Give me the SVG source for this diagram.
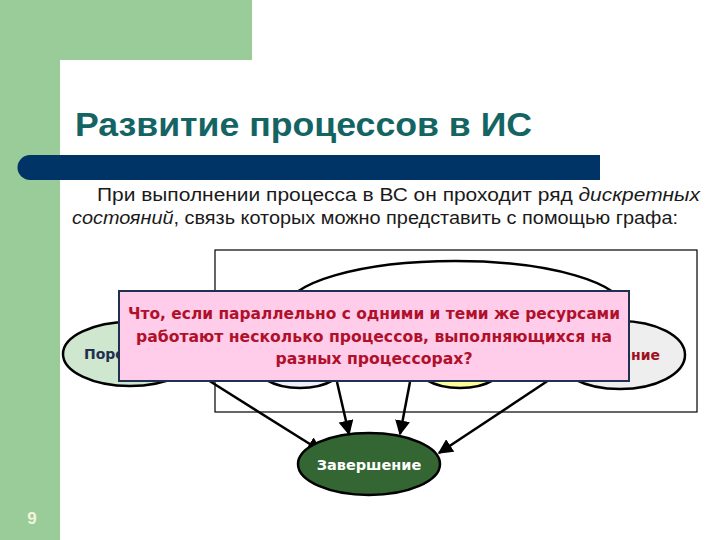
<svg xmlns="http://www.w3.org/2000/svg" width="720" height="540" viewBox="0 0 720 540">
<defs>
<style>
.sans{font-family:"Liberation Sans",Arial,sans-serif}
.dv{font-family:"DejaVu Sans",Verdana,sans-serif}
.st{stroke:#000;stroke-width:2.5}
.cn{stroke:#000;stroke-width:2.5;fill:none;marker-end:url(#ah)}
</style>
<marker id="ah" viewBox="0 0 10 10" refX="9" refY="5" markerWidth="6" markerHeight="6" orient="auto" markerUnits="strokeWidth">
<path d="M0,0 L10,5 L0,10 Z" fill="#000"/>
</marker>
</defs>
<rect width="720" height="540" fill="#fff"/>
<rect x="0" y="0" width="252" height="60" fill="#99cc99"/>
<rect x="0" y="0" width="60" height="540" fill="#99cc99"/>
<path d="M60,82 Q60,60 82,60 L720,60 L720,540 L60,540 Z" fill="#fff"/>
<path d="M30,155 L600,155 L600,180 L30,180 A12.5,12.5 0 0 1 30,155 Z" fill="#003366"/>
<text class="sans" x="75" y="136" font-size="33" font-weight="bold" fill="#146464" textLength="457" lengthAdjust="spacingAndGlyphs">Развитие процессов в ИС</text>
<text class="sans" x="97" y="201" font-size="17.5" fill="#1a1a1a" textLength="603" lengthAdjust="spacingAndGlyphs">При выполнении процесса в ВС он проходит ряд <tspan font-style="italic">дискретных</tspan></text>
<text class="sans" x="72" y="224" font-size="17.5" fill="#1a1a1a" textLength="606" lengthAdjust="spacingAndGlyphs"><tspan font-style="italic">состояний</tspan>, связь которых можно представить с помощью графа:</text>
<text class="sans" x="32" y="524" font-size="17" font-weight="bold" fill="#f4f4dc" text-anchor="middle">9</text>

<rect x="215" y="250" width="482" height="162" fill="#fff" stroke="#000" stroke-width="1.2"/>

<g id="connectors">
<line class="cn" x1="208" y1="380" x2="321" y2="451"/>
<line class="cn" x1="337" y1="382" x2="349" y2="434"/>
<line class="cn" x1="410" y1="382" x2="400" y2="434"/>
<line class="cn" x1="552" y1="378" x2="439" y2="453"/>
</g>

<g id="node-top">
<ellipse class="st" cx="455" cy="310" rx="170" ry="49" fill="#fff"/>
</g>
<g id="node-blue">
<ellipse class="st" cx="300" cy="360" rx="48" ry="28" fill="#eef0fb"/>
</g>
<g id="node-yellow">
<ellipse class="st" cx="460" cy="360" rx="48" ry="28" fill="#ffff99"/>
</g>
<g id="node-left">
<ellipse class="st" cx="130" cy="354" rx="67" ry="32" fill="#cfe6cf"/>
<text class="dv" x="84" y="359" font-size="14" font-weight="bold" fill="#1f3050">Порождение</text>
</g>
<g id="node-right">
<ellipse class="st" cx="620" cy="355" rx="65" ry="34" fill="#eeeeee"/>
<text class="dv" x="660" y="360" font-size="14" font-weight="bold" fill="#a01020" text-anchor="end">Ожидание</text>
</g>
<g id="node-end">
<ellipse class="st" cx="369" cy="464" rx="71" ry="31" fill="#336633"/>
<text class="dv" x="369" y="470" font-size="14.5" font-weight="bold" fill="#fff" text-anchor="middle">Завершение</text>
</g>

<g id="callout">
<rect x="119" y="291" width="510" height="90" fill="#ffccea" stroke="#1f3050" stroke-width="2"/>
<text class="dv" x="374" y="319" font-size="15.5" font-weight="bold" fill="#b0102a" text-anchor="middle" textLength="492" lengthAdjust="spacingAndGlyphs">Что, если параллельно с одними и теми же ресурсами</text>
<text class="dv" x="374" y="342" font-size="15.5" font-weight="bold" fill="#b0102a" text-anchor="middle" textLength="476" lengthAdjust="spacingAndGlyphs">работают несколько процессов, выполняющихся на</text>
<text class="dv" x="374" y="364" font-size="15.5" font-weight="bold" fill="#b0102a" text-anchor="middle" textLength="197" lengthAdjust="spacingAndGlyphs">разных процессорах?</text>
</g>
</svg>
